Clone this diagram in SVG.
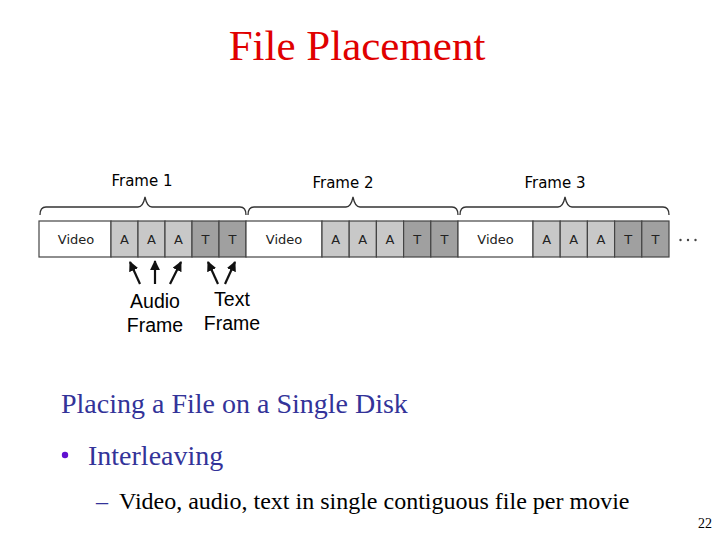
<svg xmlns="http://www.w3.org/2000/svg" width="720" height="540" viewBox="0 0 720 540">
<defs>
<style>
.title{font-family:"Liberation Serif","Times New Roman",serif;font-size:43px;fill:#e00000}
.body{font-family:"Liberation Serif","Times New Roman",serif;fill:#333399}
.lbl{font-family:"DejaVu Sans",Verdana,sans-serif;font-size:15px;fill:#000}
.cell{font-family:"DejaVu Sans",Verdana,sans-serif;font-size:13px;fill:#222;text-anchor:middle}
.cap{font-family:"Liberation Sans",Arial,sans-serif;font-size:19.5px;fill:#000;text-anchor:middle}
.v{fill:#fff;stroke:#444;stroke-width:1.2}
.a{fill:#c8c8c8;stroke:#444;stroke-width:1.2}
.t{fill:#a0a0a0;stroke:#444;stroke-width:1.2}
.brace{fill:none;stroke:#333;stroke-width:1.3}
.arr{stroke:#111;stroke-width:2.2;fill:none;marker-end:url(#ah)}
</style>
<marker id="ah" viewBox="0 0 10 10" refX="9" refY="5" markerWidth="4.5" markerHeight="4.5" orient="auto" markerUnits="strokeWidth">
<path d="M0,0 L10,5 L0,10 Z" fill="#111"/>
</marker>
</defs>
<rect width="720" height="540" fill="#fff"/>
<text class="title" x="357" y="60" text-anchor="middle">File Placement</text>

<g id="frame1">
<text class="lbl" x="142" y="186" text-anchor="middle">Frame 1</text>
<path class="brace" d="M40,215 Q40,207 46,207 L138,207 Q143,207 145,197 Q147,207 152,207 L240,207 Q246,207 246,215"/>
<rect class="v" x="39" y="221" width="72" height="36"/>
<rect class="a" x="111" y="221" width="27" height="36"/>
<rect class="a" x="138" y="221" width="27" height="36"/>
<rect class="a" x="165" y="221" width="27" height="36"/>
<rect class="t" x="192" y="221" width="27" height="36"/>
<rect class="t" x="219" y="221" width="27" height="36"/>
<text class="cell" x="76" y="244">Video</text>
<text class="cell" x="124.5" y="244">A</text>
<text class="cell" x="151.5" y="244">A</text>
<text class="cell" x="178.5" y="244">A</text>
<text class="cell" x="205.5" y="244">T</text>
<text class="cell" x="232.5" y="244">T</text>
</g>

<g id="frame2">
<text class="lbl" x="343" y="188" text-anchor="middle">Frame 2</text>
<path class="brace" d="M248,215 Q248,207 254,207 L346,207 Q351,207 353,197 Q355,207 360,207 L452,207 Q458,207 458,215"/>
<rect class="v" x="246" y="221" width="76" height="36"/>
<rect class="a" x="322" y="221" width="27.2" height="36"/>
<rect class="a" x="349.2" y="221" width="27.2" height="36"/>
<rect class="a" x="376.4" y="221" width="27.2" height="36"/>
<rect class="t" x="403.6" y="221" width="27.2" height="36"/>
<rect class="t" x="430.8" y="221" width="27.2" height="36"/>
<text class="cell" x="284" y="244">Video</text>
<text class="cell" x="335.6" y="244">A</text>
<text class="cell" x="362.8" y="244">A</text>
<text class="cell" x="390" y="244">A</text>
<text class="cell" x="417.2" y="244">T</text>
<text class="cell" x="444.4" y="244">T</text>
</g>

<g id="frame3">
<text class="lbl" x="555" y="188" text-anchor="middle">Frame 3</text>
<path class="brace" d="M460,215 Q460,207 466,207 L558,207 Q563,207 565,197 Q567,207 572,207 L663,207 Q669,207 669,215"/>
<rect class="v" x="458" y="221" width="75" height="36"/>
<rect class="a" x="533" y="221" width="27.2" height="36"/>
<rect class="a" x="560.2" y="221" width="27.2" height="36"/>
<rect class="a" x="587.4" y="221" width="27.2" height="36"/>
<rect class="t" x="614.6" y="221" width="27.2" height="36"/>
<rect class="t" x="641.8" y="221" width="27.2" height="36"/>
<text class="cell" x="495.5" y="244">Video</text>
<text class="cell" x="546.6" y="244">A</text>
<text class="cell" x="573.8" y="244">A</text>
<text class="cell" x="601" y="244">A</text>
<text class="cell" x="628.2" y="244">T</text>
<text class="cell" x="655.4" y="244">T</text>
<g fill="#444">
<circle cx="680.5" cy="240" r="1.2"/>
<circle cx="688" cy="240" r="1.2"/>
<circle cx="695.5" cy="240" r="1.2"/>
</g>
</g>

<g id="connectors">
<line class="arr" x1="140" y1="284" x2="130" y2="262"/>
<line class="arr" x1="155" y1="284" x2="155" y2="261"/>
<line class="arr" x1="170" y1="284" x2="181" y2="262"/>
<line class="arr" x1="218" y1="284" x2="208" y2="262"/>
<line class="arr" x1="225" y1="284" x2="235" y2="262"/>
</g>

<g id="audio-label">
<text class="cap" x="155" y="308">Audio</text>
<text class="cap" x="155" y="332">Frame</text>
</g>
<g id="text-label">
<text class="cap" x="232" y="306">Text</text>
<text class="cap" x="232" y="330">Frame</text>
</g>

<text class="body" x="61" y="413" font-size="28">Placing a File on a Single Disk</text>
<circle cx="65" cy="455" r="3.2" fill="#6010d0"/>
<text class="body" x="88" y="465" font-size="28">Interleaving</text>
<text class="body" x="96" y="509" font-size="24">–</text>
<text class="body" x="119" y="509" font-size="24" style="fill:#000">Video, audio, text in single contiguous file per movie</text>
<text x="712" y="528" text-anchor="end" font-family="Liberation Serif,serif" font-size="14" fill="#000">22</text>
</svg>
